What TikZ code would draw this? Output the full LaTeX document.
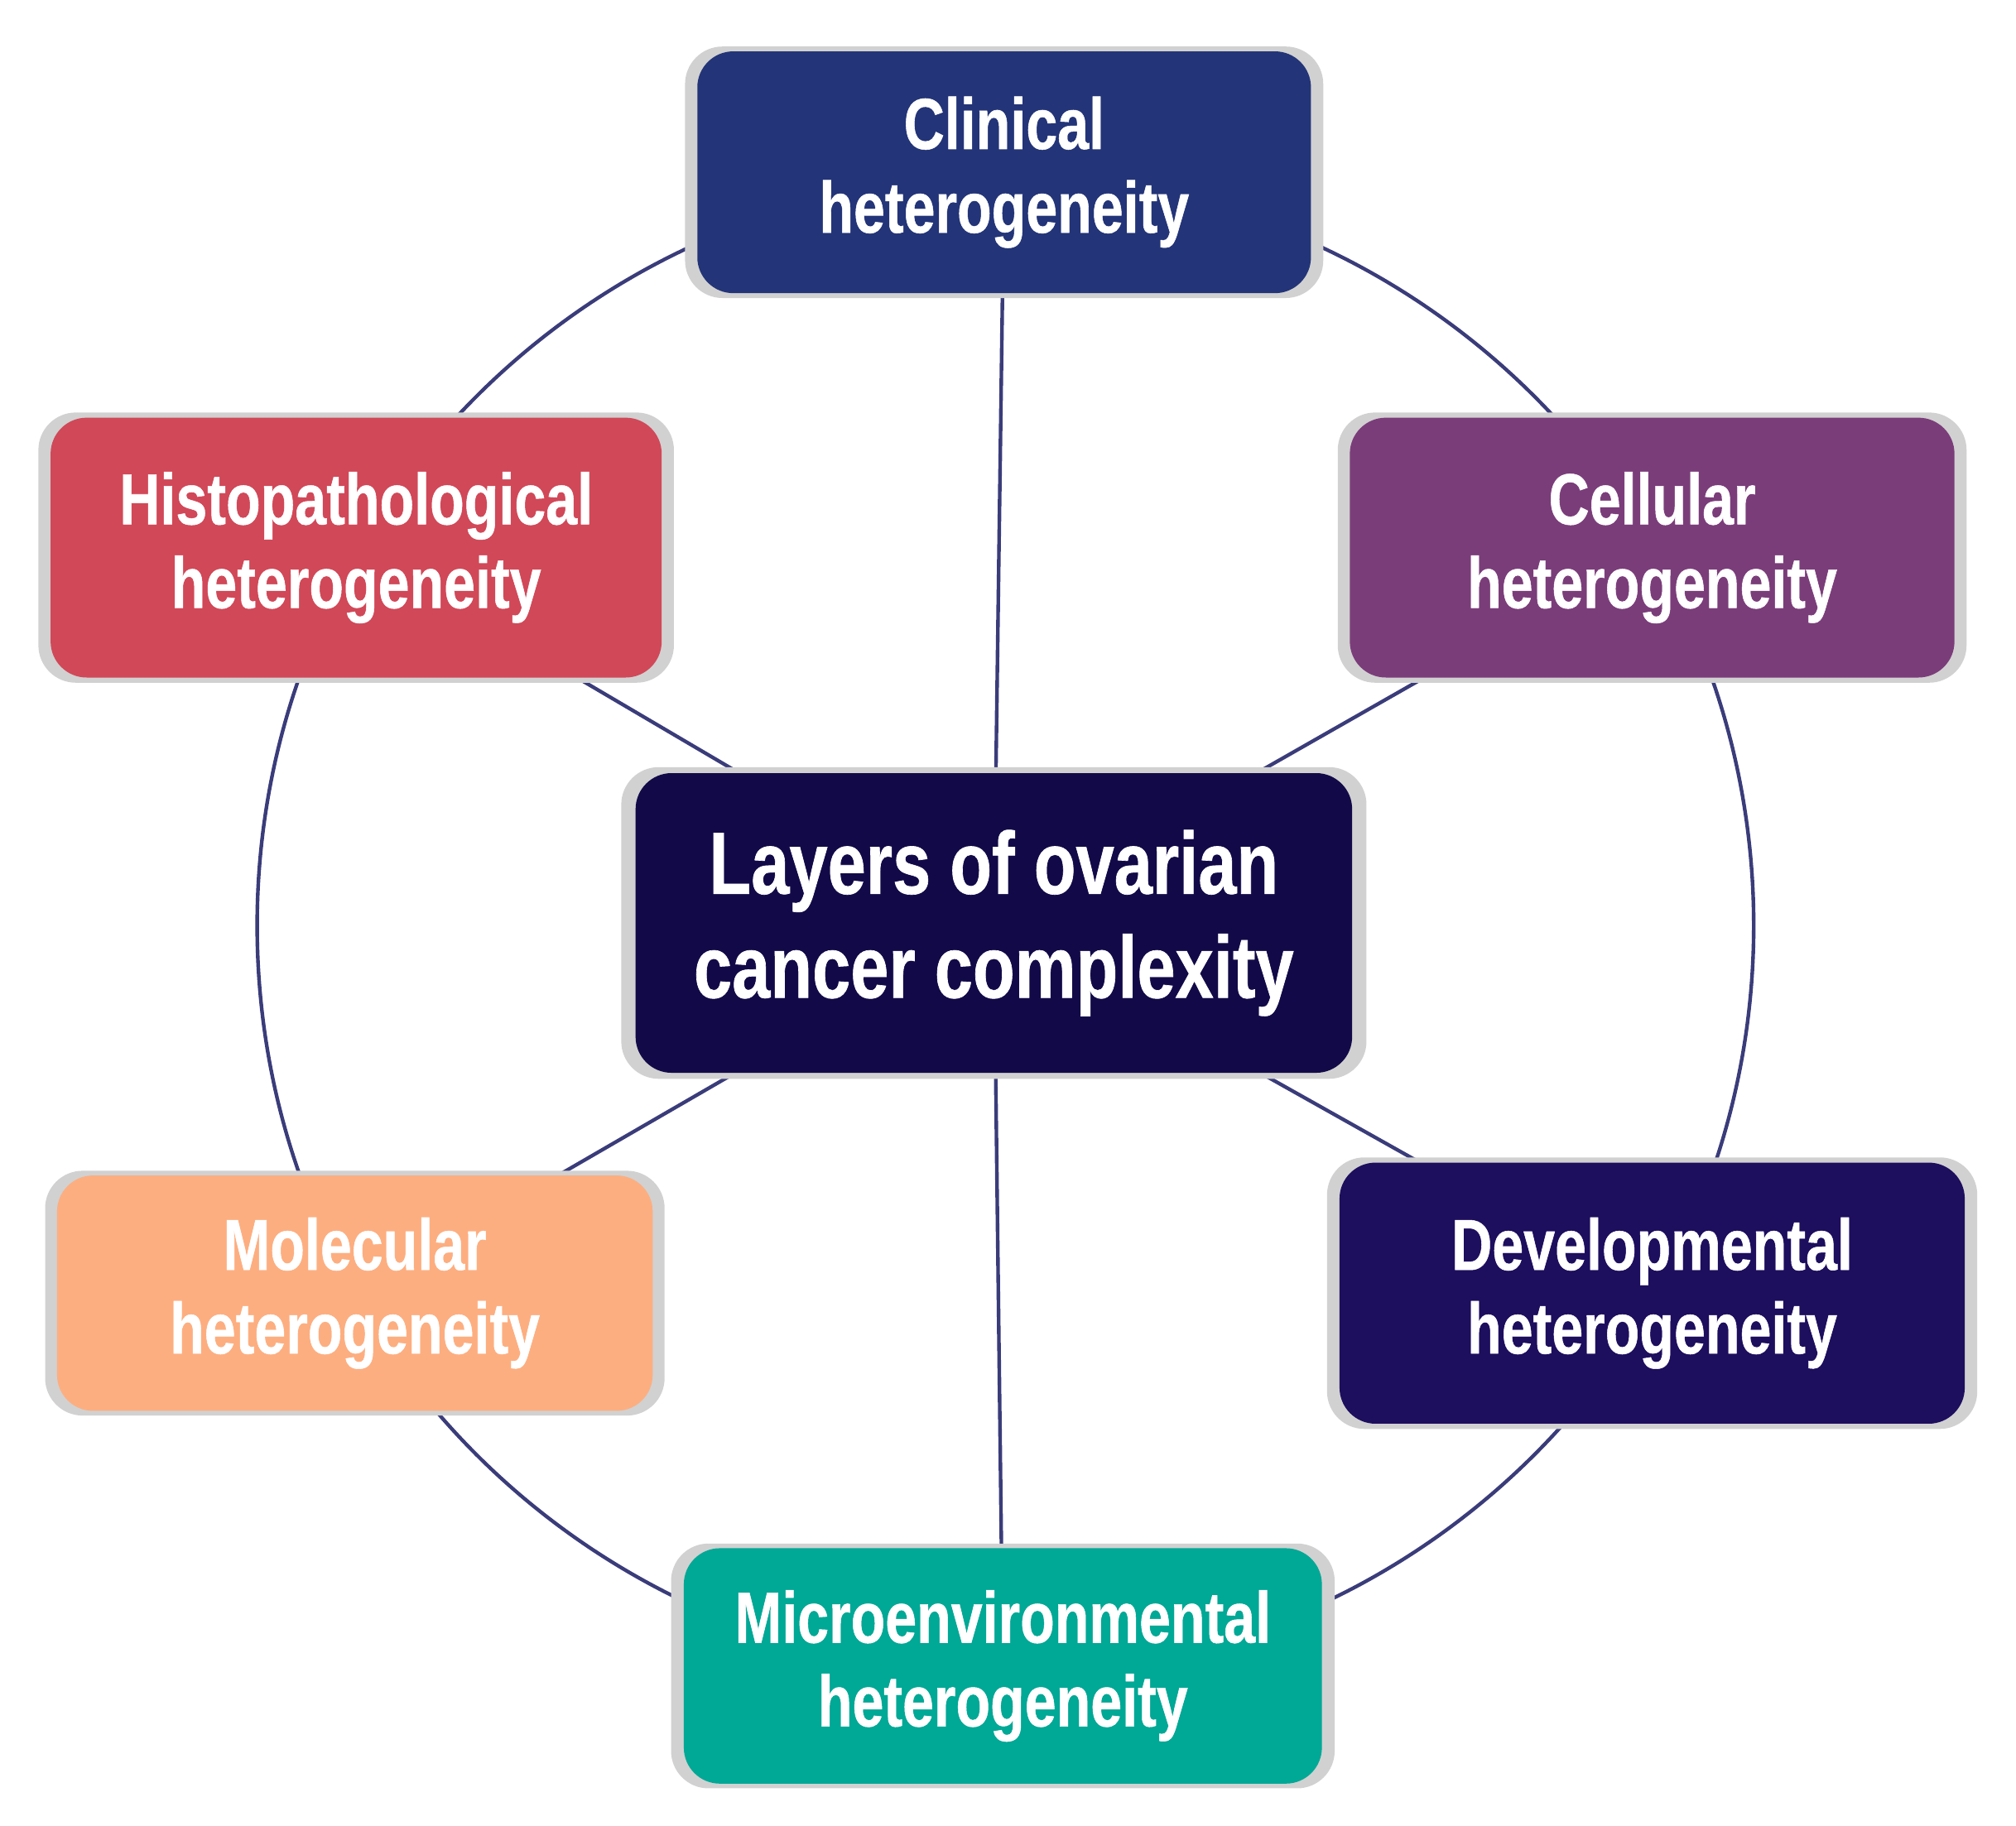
\documentclass[tikz,border=0pt]{standalone}
\usepackage{fontspec}
\setmainfont{Liberation Sans}
\newfontfamily\boxfont{Liberation Sans}[FakeStretch=0.78,FakeBold=0.6]
\usetikzlibrary{positioning,shadows,backgrounds}
\definecolor{clinicalblue}{HTML}{233478}
\definecolor{histored}{HTML}{D14858}
\definecolor{cellpurple}{HTML}{7B3D7A}
\definecolor{centernavy}{HTML}{120A48}
\definecolor{molpeach}{HTML}{FDAE80}
\definecolor{devindigo}{HTML}{1E0E5E}
\definecolor{microteal}{HTML}{00A896}
\definecolor{linkline}{HTML}{3A3C7A}
\tikzset{
  layer/.style={rounded corners=0.28cm, draw=none, text=white, align=center,
    font=\boxfont\fontsize{16}{18.5}\selectfont\bfseries,
    general shadow={fill=black!18, shadow scale=1.04}},
  link/.style={draw=linkline, line width=0.8pt}
}
\begin{document}
\begin{tikzpicture}[x=0.01cm,y=-0.01cm]
  \useasboundingbox (0,0) rectangle (1568,1420);
  \node[layer, fill=clinicalblue, minimum width=4.77cm, minimum height=1.88cm] (clin) at (781,134) {Clinical\\heterogeneity};
  \node[layer, fill=histored, minimum width=4.75cm, minimum height=2.02cm] (histo) at (277,426) {Histopathological\\heterogeneity};
  \node[layer, fill=cellpurple, minimum width=4.70cm, minimum height=2.02cm] (cell) at (1285,426) {Cellular\\heterogeneity};
  \node[layer, fill=centernavy, minimum width=5.57cm, minimum height=2.33cm,
    font=\boxfont\fontsize{19.5}{23}\selectfont\bfseries] (core) at (773,718) {Layers of ovarian\\cancer complexity};
  \node[layer, fill=molpeach, minimum width=4.63cm, minimum height=1.83cm] (mol) at (276,1006) {Molecular\\heterogeneity};
  \node[layer, fill=devindigo, minimum width=4.86cm, minimum height=2.03cm] (dev) at (1285,1006) {Developmental\\heterogeneity};
  \node[layer, fill=microteal, minimum width=4.96cm, minimum height=1.83cm] (micro) at (780,1296) {Microenvironmental\\heterogeneity};
  \begin{scope}[on background layer]
    \draw[link] (782,720) circle (582);
    \draw[link] (core) -- (clin);
    \draw[link] (core) -- (histo);
    \draw[link] (core) -- (cell);
    \draw[link] (core) -- (mol);
    \draw[link] (core) -- (dev);
    \draw[link] (core) -- (micro);
  \end{scope}
\end{tikzpicture}
\end{document}
